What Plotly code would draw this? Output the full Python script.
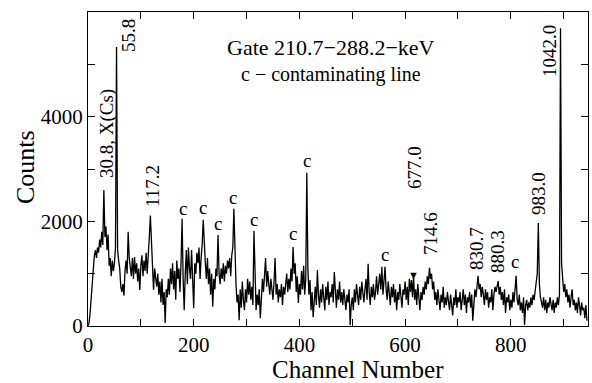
import plotly.graph_objects as go

# ---- data ----
channels = list(range(0, 946, 2))
counts = [
    0, 60, 250, 550, 850, 1100, 1350, 1450, 1300, 1500,
    1400, 1650, 1500, 1800, 1550, 2600, 1700, 1900, 1450, 1750,
    1150, 1300, 950, 1250, 1050, 1200, 1500, 5330, 1450, 1250,
    1100, 750, 650, 800, 580, 1050, 1250, 1000, 1800, 1300,
    1100, 950, 1300, 900, 1320, 1000, 1200, 850, 1100, 690,
    1150, 1350, 950, 1250, 1050, 1400, 1000, 1500, 1700, 2110,
    1500, 1200, 690, 1100, 900, 750, 1000, 600, 850, 450,
    900, 400, 650, 60, 700, 550, 900, 600, 1100, 800,
    1200, 700, 1050, 500, 1250, 900, 1100, 650, 1200, 2050,
    900, 300, 1000, 1450, 800, 1500, 1100, 900, 1450, 750,
    340, 1200, 1000, 1400, 1200, 1500, 900, 1300, 1550, 2030,
    1400, 1200, 900, 1300, 800, 1100, 600, 1000, 370, 900,
    700, 1100, 950, 1740, 1000, 800, 1100, 900, 1200, 850,
    1150, 1000, 1250, 1100, 1300, 950, 1350, 1500, 2240, 1200,
    800, 450, 600, 110, 700, 350, 850, 500, 300, 700,
    450, 900, 600, 850, 500, 750, 400, 1820, 700, 300,
    600, 400, 700, 150, 500, 900, 650, 1000, 1300, 750,
    1050, 800, 600, 900, 700, 500, 850, 1300, 600, 800,
    450, 700, 550, 800, 400, 750, 600, 850, 1000, 650,
    900, 700, 1100, 850, 1510, 1000, 1200, 650, 950, 440,
    800, 600, 1050, 700, 1150, 600, 900, 2930, 1100, 600,
    880, 300, 650, 170, 500, 750, 400, 1070, 600, 350,
    700, 450, 800, 550, 300, 750, 500, 850, 400, 650,
    550, 800, 450, 1030, 600, 350, 700, 500, 850, 450,
    650, 400, 700, 550, 300, 600, 450, 700, 20, 400,
    550, 300, 700, 450, 800, 600, 400, 750, 500, 850,
    600, 450, 700, 900, 500, 1190, 650, 400, 750, 550,
    800, 500, 650, 950, 600, 850, 1000, 700, 1130, 600,
    900, 1130, 700, 500, 850, 600, 400, 750, 550, 800,
    450, 700, 300, 650, 500, 800, 550, 350, 700, 600,
    850, 500, 750, 400, 900, 650, 880, 550, 950, 500,
    700, 400, 800, 550, 300, 650, 500, 750, 600, 850,
    700, 950, 800, 1110, 900, 1000, 700, 850, 500, 650,
    400, 700, 550, 300, 600, 450, 750, 350, 550, 400,
    650, 500, 300, 600, 450, 200, 550, 400, 700, 350,
    550, 450, 650, 300, 500, 700, 400, 600, 250, 550,
    450, 650, 350, 600, 100, 500, 700, 550, 750, 960,
    700, 800, 550, 750, 600, 400, 700, 500, 650, 350,
    550, 450, 700, 300, 600, 750, 650, 800, 860, 600,
    750, 500, 650, 400, 700, 250, 550, 450, 600, 300,
    500, 350, 650, 450, 700, 960, 500, 400, 600, 300,
    450, 250, 550, 20, 400, 500, 300, 450, 350, 550,
    400, 600, 500, 700, 850, 1000, 1970, 800, 550, 450,
    350, 550, 300, 500, 250, 450, 350, 550, 400, 300,
    500, 250, 450, 350, 550, 400, 600, 5690, 1200, 900,
    650, 800, 550, 700, 450, 600, 350, 550, 700, 400,
    500, 300, 450, 250, 550, 400, 200, 450, 300, 350,
    150, 400, 100,
]
x_tick_vals = list(range(0, 1000, 100))
x_tick_text = ["0", "", "200", "", "400", "", "600", "", "800", ""]
y_tick_vals = list(range(0, 6000, 1000))
y_tick_text = ["0", "", "2000", "", "4000", ""]

title_text = "Gate 210.7\u2212288.2\u2212keV"
legend_text = "c \u2212 contaminating line"
peak_labels = ["30.8, X(Cs)", "55.8", "117.2", "677.0", "714.6",
               "830.7", "880.3", "983.0", "1042.0"]

# ---- layout helpers (pixel -> paper) ----
L, R, T, B = 88, 588, 12, 326
def px(x):
    return (x - L) / (R - L)
def py(y):
    return (B - y) / (B - T)

FONT = "Liberation Serif"

fig = go.Figure()
fig.add_trace(go.Scatter(x=channels, y=counts, mode="lines",
                         line=dict(color="black", width=1.3),
                         hoverinfo="skip", showlegend=False))

axis_common = dict(showline=True, linecolor="black", linewidth=1, mirror="ticks",
                   ticks="inside", ticklen=7, tickwidth=1, tickcolor="black",
                   showgrid=False, zeroline=False,
                   tickfont=dict(family=FONT, size=21, color="black"))
fig.update_xaxes(range=[0, 946], tickmode="array", tickvals=x_tick_vals,
                 ticktext=x_tick_text, **axis_common)
fig.update_yaxes(range=[0, 6000], tickmode="array", tickvals=y_tick_vals,
                 ticktext=y_tick_text, **axis_common)

ann = []
def add(text, x, y, size=19, angle=0):
    ann.append(dict(text=text, x=px(x), y=py(y), xref="paper", yref="paper",
                    showarrow=False, textangle=angle, xanchor="center",
                    yanchor="middle",
                    font=dict(family=FONT, size=size, color="black")))

add(title_text, 331, 48, size=22)
add(legend_text, 331, 75, size=20)

peak_pos = [(107, 134), (129, 36), (152, 186), (414, 168), (430, 234),
            (477, 249), (497, 252), (538, 194), (550, 51)]
for t, (x, y) in zip(peak_labels, peak_pos):
    add(t, x, y, size=19, angle=-90)

for (x, y) in [(183, 208), (203, 207), (218, 223), (233, 197), (254, 219),
               (293, 233), (307, 160), (385, 254), (515, 261)]:
    add("c", x, y, size=19)

add("\u25BC", 413, 275, size=11)

# axis titles
ann.append(dict(text="Channel Number", x=px(358), y=0, xref="paper", yref="paper",
                yshift=-(369 - B), showarrow=False, xanchor="center", yanchor="middle",
                borderpad=0,
                font=dict(family=FONT, size=25, color="black")))
ann.append(dict(text="Counts", x=0, y=py(167), xref="paper", yref="paper",
                xshift=-(L - 25), showarrow=False, textangle=-90,
                xanchor="center", yanchor="middle",
                font=dict(family=FONT, size=26, color="black")))

fig.update_layout(width=592, height=383,
                  margin=dict(l=L, r=592 - R, t=T, b=383 - B),
                  paper_bgcolor="white", plot_bgcolor="white",
                  annotations=ann, showlegend=False)

fig.write_html("out.html", config={"displayModeBar": False},
               post_script="document.body.style.margin='0';document.body.style.padding='0';")
